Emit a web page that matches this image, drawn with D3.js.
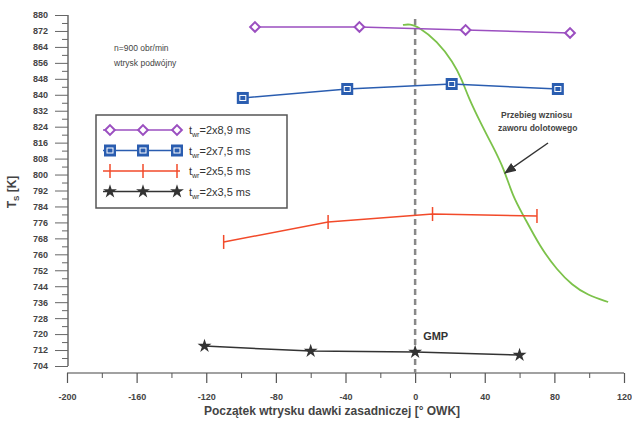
<!DOCTYPE html>
<html>
<head>
<meta charset="utf-8">
<script src="https://cdn.jsdelivr.net/npm/d3@7"></script>
<style>
  body { margin: 0; background: #fff; }
  svg text { font-family: "Liberation Sans", Arial, sans-serif; }
</style>
</head>
<body>
<svg id="chart" width="632" height="422"></svg>
<script>
'use strict';
// series: start of main injection [deg CA] vs T_S [K]
const X_89 = [-92, -32, 29, 89];
const T_89 = [874, 874, 872.5, 871];
const X_75 = [-99, -39, 21, 82];
const T_75 = [838.4, 842.9, 845.4, 842.9];
const X_55 = [-110, -50, 10, 70];
const T_55 = [766.2, 776.2, 780.2, 779.2];
const X_35 = [-121, -60, 0, 60];
const T_35 = [714, 711.5, 711, 709.5];
// inlet valve lift curve (drawn in the same coordinates)
const X_VALVE = [-7, -3, 2, 12.6, 21.8, 27, 30.5, 37.4, 44.8, 50.6, 56.3, 62.1, 71.8, 81.6, 90.2, 98.9, 110.9];
const T_VALVE = [875, 875.5, 874, 867, 856.4, 847.4, 838.9, 826.3, 813.8, 803.8, 788.7, 779.7, 763.7, 752.1, 744.6, 739.6, 736.1];
const LEGEND_LABELS = ['=2x8,9 ms', '=2x7,5 ms', '=2x5,5 ms', '=2x3,5 ms'];
const X_TICKS = [-200, -160, -120, -80, -40, 0, 40, 80, 120];
const Y_TICKS = d3.range(704, 881, 8);

const svg = d3.select('#chart');
const x = d3.scaleLinear().domain([-200, 120]).range([67, 624]);
const y = d3.scaleLinear().domain([704, 880]).range([366, 15]);
const xAxisY = 373;
const yAxisX = 68;

// Y axis
const yAxis = svg.append('g').attr('transform', `translate(${yAxisX},0)`);
yAxis.call(d3.axisLeft(y).tickValues(Y_TICKS).tickSize(13).tickPadding(7))
  .call((g) => g.select('.domain').attr('stroke', '#444').attr('stroke-width', 1.2).attr('d', `M0,${y(880)}V${y(704)}`))
  .call((g) => g.selectAll('.tick line').attr('stroke', '#666'))
  .call((g) => g.selectAll('.tick text').attr('fill', '#444').attr('font-size', 9).attr('font-weight', 'bold'));
yAxis.append('g')
  .call(d3.axisLeft(y).tickValues(d3.range(708, 880, 8)).tickSize(6).tickFormat(''))
  .call((g) => g.select('.domain').remove())
  .call((g) => g.selectAll('.tick line').attr('stroke', '#666'));

// X axis
const xAxis = svg.append('g').attr('transform', `translate(0,${xAxisY})`);
xAxis.call(d3.axisBottom(x).tickValues(X_TICKS).tickSize(10).tickPadding(11).tickFormat((d) => String(d)))
  .call((g) => g.select('.domain').attr('stroke', '#444').attr('stroke-width', 1.2).attr('d', `M${x(-200)},0H${x(120)}`))
  .call((g) => g.selectAll('.tick line').attr('stroke', '#555').attr('stroke-width', 1.2))
  .call((g) => g.selectAll('.tick text').attr('fill', '#444').attr('font-size', 9).attr('font-weight', 'bold'));
xAxis.append('g')
  .call(d3.axisBottom(x).tickValues(d3.range(-180, 120, 40)).tickSize(5).tickFormat(''))
  .call((g) => g.select('.domain').remove())
  .call((g) => g.selectAll('.tick line').attr('stroke', '#555'));

// axis titles
svg.append('text')
  .attr('x', 332).attr('y', 415)
  .attr('text-anchor', 'middle')
  .attr('font-size', 12).attr('font-weight', 'bold').attr('fill', '#444')
  .text('Początek wtrysku dawki zasadniczej  [° OWK]');
const yt = svg.append('text')
  .attr('transform', 'translate(16,192) rotate(-90)')
  .attr('text-anchor', 'middle')
  .attr('font-size', 12).attr('font-weight', 'bold').attr('fill', '#444');
yt.append('tspan').text('T');
yt.append('tspan').attr('font-size', 8).attr('dy', 3).text('S');
yt.append('tspan').attr('dy', -3).text(' [K]');

// GMP dashed line
svg.append('line')
  .attr('x1', x(0)).attr('x2', x(0))
  .attr('y1', y(878)).attr('y2', xAxisY)
  .attr('stroke', '#888').attr('stroke-width', 2.5)
  .attr('stroke-dasharray', '6,4');
svg.append('text')
  .attr('x', x(0) + 8).attr('y', 340)
  .attr('font-size', 11).attr('font-weight', 'bold').attr('fill', '#333')
  .text('GMP');

const line = d3.line().x((d) => x(d[0])).y((d) => y(d[1]));
const zip = (xs, ts) => xs.map((v, i) => [v, ts[i]]);

// valve lift curve
svg.append('path')
  .datum(zip(X_VALVE, T_VALVE))
  .attr('d', d3.line().curve(d3.curveBasis).x((d) => x(d[0])).y((d) => y(d[1])))
  .attr('fill', 'none').attr('stroke', '#7cc24a').attr('stroke-width', 1.8);

const SERIES = [
  { data: zip(X_89, T_89), color: '#9b4fc0', marker: 'diamond' },
  { data: zip(X_75, T_75), color: '#2a5db0', marker: 'square' },
  { data: zip(X_55, T_55), color: '#f24a2a', marker: 'bar' },
  { data: zip(X_35, T_35), color: '#333333', marker: 'star' },
];

function drawMarker(g, type, color) {
  if (type === 'diamond') {
    g.append('path').attr('d', d3.symbol(d3.symbolDiamond2, 60)())
      .attr('fill', '#fff').attr('stroke', color).attr('stroke-width', 2);
  } else if (type === 'square') {
    g.append('rect').attr('x', -6).attr('y', -6).attr('width', 12).attr('height', 12)
      .attr('fill', color);
    g.append('rect').attr('x', -3).attr('y', -2.5).attr('width', 6).attr('height', 5)
      .attr('fill', 'none').attr('stroke', '#fff').attr('stroke-width', 1);
  } else if (type === 'bar') {
    g.append('line').attr('y1', -7).attr('y2', 7)
      .attr('stroke', color).attr('stroke-width', 1.5);
  } else {
    g.append('path').attr('d', d3.symbol(d3.symbolStar, 60)())
      .attr('fill', color);
  }
}

SERIES.forEach((s) => {
  svg.append('path').datum(s.data).attr('d', line)
    .attr('fill', 'none').attr('stroke', s.color).attr('stroke-width', 1.5);
  s.data.forEach((d) => {
    drawMarker(svg.append('g').attr('transform', `translate(${x(d[0])},${y(d[1])})`), s.marker, s.color);
  });
});

// notes
svg.append('text').attr('x', 114).attr('y', 51)
  .attr('font-size', 8.5).attr('fill', '#444').text('n=900 obr/min');
svg.append('text').attr('x', 114).attr('y', 66)
  .attr('font-size', 8.5).attr('fill', '#444').text('wtrysk podwójny');
svg.append('text').attr('x', 501).attr('y', 118)
  .attr('font-size', 8.5).attr('font-weight', 'bold').attr('fill', '#444').text('Przebieg wzniosu');
svg.append('text').attr('x', 498).attr('y', 131)
  .attr('font-size', 8.5).attr('font-weight', 'bold').attr('fill', '#444').text('zaworu dolotowego');
svg.append('defs').append('marker')
  .attr('id', 'arrow').attr('viewBox', '0 0 10 10').attr('refX', 9).attr('refY', 5)
  .attr('markerWidth', 8).attr('markerHeight', 8).attr('orient', 'auto')
  .append('path').attr('d', 'M0,1L10,5L0,9z').attr('fill', '#333');
svg.append('line')
  .attr('x1', 548).attr('y1', 143).attr('x2', 505).attr('y2', 173)
  .attr('stroke', '#333').attr('stroke-width', 1.5).attr('marker-end', 'url(#arrow)');

// legend
const legend = svg.append('g');
legend.append('rect').attr('x', 96).attr('y', 115).attr('width', 191).attr('height', 93)
  .attr('fill', '#fff').attr('stroke', '#555').attr('stroke-width', 1.5);
SERIES.forEach((s, i) => {
  const ly = 130 + i * 20.5;
  legend.append('line').attr('x1', 103).attr('x2', 180).attr('y1', ly).attr('y2', ly)
    .attr('stroke', s.color).attr('stroke-width', 1.5);
  [110, 143, 177].forEach((mx) => drawMarker(legend.append('g').attr('transform', `translate(${mx},${ly})`), s.marker, s.color));
  const t = legend.append('text').attr('x', 189).attr('y', ly + 4)
    .attr('font-size', 11).attr('fill', '#333');
  t.append('tspan').text('t');
  t.append('tspan').attr('font-size', 7).attr('dy', 3).text('wr');
  t.append('tspan').attr('dy', -3).text(LEGEND_LABELS[i]);
});
</script>
</body>
</html>
